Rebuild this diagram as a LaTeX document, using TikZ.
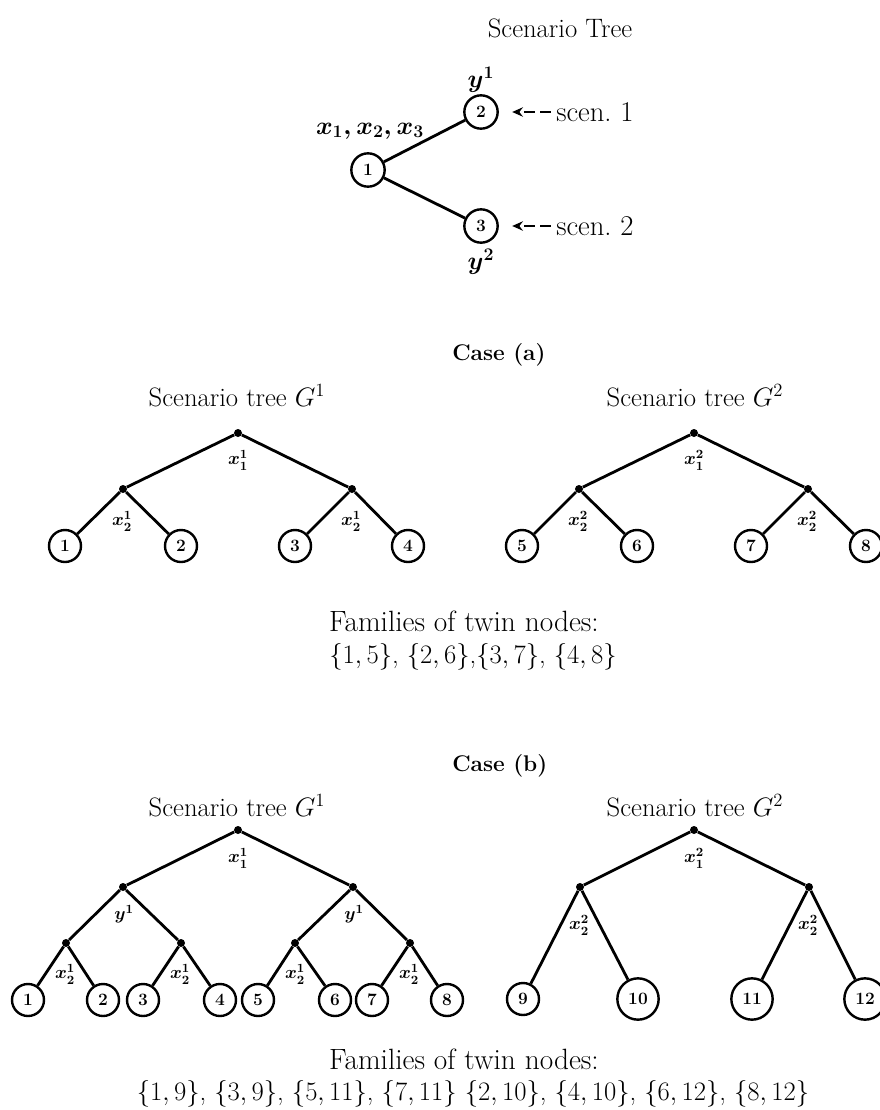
\RequirePackage{fix-cm}
\documentclass[tikz,border=0pt]{standalone}
\usetikzlibrary{arrows.meta}
\begin{document}
\begin{tikzpicture}[x=0.75pt,y=-0.75pt,
  bigtext/.style={font=\fontsize{20}{24}\selectfont, inner sep=0pt},
  scentext/.style={font=\fontsize{21.5}{25}\selectfont, inner sep=0pt},
  famtext/.style={font=\fontsize{22}{26}\selectfont, inner sep=0pt},
  settext/.style={font=\fontsize{20}{24}\selectfont, inner sep=0pt},
  casetext/.style={font=\fontsize{17}{20}\selectfont\bfseries, inner sep=0pt},
  lbl/.style={font=\fontsize{13.5}{16}\selectfont\boldmath, inner sep=0pt},
  toplbl/.style={font=\fontsize{19}{22}\selectfont\boldmath, inner sep=0pt},
  leaf/.style={circle, draw, line width=1.8pt, minimum size=24pt, inner sep=0pt, font=\fontsize{13}{15}\selectfont\bfseries},
  wleaf/.style={leaf, minimum size=31pt},
  topnode/.style={leaf, minimum size=25pt},
  dot/.style={circle, fill, inner sep=0pt, minimum size=6pt},
  edge/.style={line width=2.1pt},
  scenarrow/.style={line width=1.5pt, dash pattern=on 8pt off 4pt, -{Stealth[length=8pt,width=7pt]}, shorten >=10pt, shorten <=4pt}
]
\useasboundingbox (0,0) rectangle (880,1110);

% ---------- top scenario tree ----------
\node[bigtext] (t0) at (560,28) {Scenario Tree};
\node[topnode] (n1) at (368,170) {1};
\node[topnode] (n2) at (481,112) {2};
\node[topnode] (n3) at (481,226) {3};
\draw[edge] (n1) -- (n2);
\draw[edge] (n1) -- (n3);
\node[toplbl] (lx) at (370,131) {$x_1,x_2,x_3$};
\node[toplbl] (ly1) at (481,80) {$y^1$};
\node[toplbl] (ly2) at (481,262) {$y^2$};
\node[scentext, anchor=west] (s1) at (556,112) {scen.\ 1};
\node[scentext, anchor=west] (s2) at (556,226) {scen.\ 2};
\draw[scenarrow] (s1.west) -- (n2.east);
\draw[scenarrow] (s2.west) -- (n3.east);

% ---------- case (a) ----------
\node[casetext, anchor=west] (ca) at (452,355) {Case (a)};
\node[bigtext] (ga1) at (237,396) {Scenario tree $G^1$};
\node[bigtext] (ga2) at (695,396) {Scenario tree $G^2$};

\node[dot] (a1r) at (238,433) {};
\node[dot] (a1m1) at (123,489) {};
\node[dot] (a1m2) at (352,489) {};
\node[leaf] (a1l1) at (65,546) {1};
\node[leaf] (a1l2) at (181,546) {2};
\node[leaf] (a1l3) at (295,546) {3};
\node[leaf] (a1l4) at (408,546) {4};
\draw[edge] (a1r) -- (a1m1);
\draw[edge] (a1r) -- (a1m2);
\draw[edge] (a1m1) -- (a1l1);
\draw[edge] (a1m1) -- (a1l2);
\draw[edge] (a1m2) -- (a1l3);
\draw[edge] (a1m2) -- (a1l4);
\node[lbl] (a1x1) at (238,460) {$x_1^1$};
\node[lbl] (a1x2a) at (122,521) {$x_2^1$};
\node[lbl] (a1x2b) at (351,521) {$x_2^1$};

\node[dot] (a2r) at (694,433) {};
\node[dot] (a2m1) at (579,489) {};
\node[dot] (a2m2) at (808,489) {};
\node[leaf] (a2l1) at (522,546) {5};
\node[leaf] (a2l2) at (637,546) {6};
\node[leaf] (a2l3) at (751,546) {7};
\node[leaf] (a2l4) at (866,546) {8};
\draw[edge] (a2r) -- (a2m1);
\draw[edge] (a2r) -- (a2m2);
\draw[edge] (a2m1) -- (a2l1);
\draw[edge] (a2m1) -- (a2l2);
\draw[edge] (a2m2) -- (a2l3);
\draw[edge] (a2m2) -- (a2l4);
\node[lbl] (a2x1) at (694,460) {$x_1^2$};
\node[lbl] (a2x2a) at (578,521) {$x_2^2$};
\node[lbl] (a2x2b) at (807,521) {$x_2^2$};

\node[famtext] (fa) at (464,621) {Families of twin nodes:};
\node[settext] (fa2) at (473,657) {$\{1,5\}$, $\{2,6\}$,$\{3,7\}$, $\{4,8\}$};

% ---------- case (b) ----------
\node[casetext, anchor=west] (cb) at (452,766) {Case (b)};
\node[bigtext] (gb1) at (237,806) {Scenario tree $G^1$};
\node[bigtext] (gb2) at (695,806) {Scenario tree $G^2$};

\node[dot] (b1r) at (238,830) {};
\node[dot] (b1m1) at (123,887) {};
\node[dot] (b1m2) at (353,887) {};
\node[dot] (b1k1) at (66,943) {};
\node[dot] (b1k2) at (181,943) {};
\node[dot] (b1k3) at (295,943) {};
\node[dot] (b1k4) at (410,943) {};
\node[leaf] (b1l1) at (28,1000) {1};
\node[leaf] (b1l2) at (103,1000) {2};
\node[leaf] (b1l3) at (143,1000) {3};
\node[leaf] (b1l4) at (220,1000) {4};
\node[leaf] (b1l5) at (258,1000) {5};
\node[leaf] (b1l6) at (335,1000) {6};
\node[leaf] (b1l7) at (372,1000) {7};
\node[leaf] (b1l8) at (447,1000) {8};
\draw[edge] (b1r) -- (b1m1);
\draw[edge] (b1r) -- (b1m2);
\draw[edge] (b1m1) -- (b1k1);
\draw[edge] (b1m1) -- (b1k2);
\draw[edge] (b1m2) -- (b1k3);
\draw[edge] (b1m2) -- (b1k4);
\draw[edge] (b1k1) -- (b1l1);
\draw[edge] (b1k1) -- (b1l2);
\draw[edge] (b1k2) -- (b1l3);
\draw[edge] (b1k2) -- (b1l4);
\draw[edge] (b1k3) -- (b1l5);
\draw[edge] (b1k3) -- (b1l6);
\draw[edge] (b1k4) -- (b1l7);
\draw[edge] (b1k4) -- (b1l8);
\node[lbl] (b1x1) at (238,858) {$x_1^1$};
\node[lbl] (b1y1) at (124,914) {$y^1$};
\node[lbl] (b1y2) at (354,914) {$y^1$};
\node[lbl] (b1x2a) at (65,974) {$x_2^1$};
\node[lbl] (b1x2b) at (180,974) {$x_2^1$};
\node[lbl] (b1x2c) at (295,974) {$x_2^1$};
\node[lbl] (b1x2d) at (409,974) {$x_2^1$};

\node[dot] (b2r) at (694,830) {};
\node[dot] (b2m1) at (580,887) {};
\node[dot] (b2m2) at (809,887) {};
\node[leaf] (b2l1) at (523,999) {9};
\node[wleaf] (b2l2) at (638,999) {10};
\node[wleaf] (b2l3) at (752,999) {11};
\node[wleaf] (b2l4) at (865,999) {12};
\draw[edge] (b2r) -- (b2m1);
\draw[edge] (b2r) -- (b2m2);
\draw[edge] (b2m1) -- (b2l1);
\draw[edge] (b2m1) -- (b2l2);
\draw[edge] (b2m2) -- (b2l3);
\draw[edge] (b2m2) -- (b2l4);
\node[lbl] (b2x1) at (694,858) {$x_1^2$};
\node[lbl] (b2x2a) at (579,925) {$x_2^2$};
\node[lbl] (b2x2b) at (808,925) {$x_2^2$};

\node[famtext] (fb) at (464,1059) {Families of twin nodes:};
\node[settext] (fb2) at (473,1094) {$\{1,9\}$, $\{3,9\}$, $\{5,11\}$, $\{7,11\}$ $\{2,10\}$, $\{4,10\}$, $\{6,12\}$, $\{8,12\}$};
\end{tikzpicture}
\end{document}
